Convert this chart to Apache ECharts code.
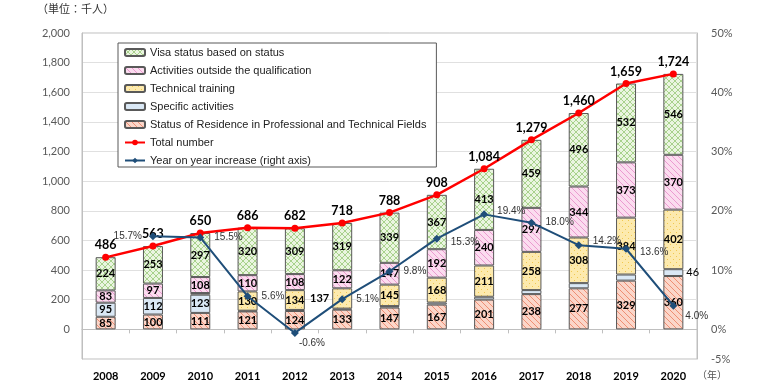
<!DOCTYPE html>
<html><head><meta charset="utf-8">
<script src="https://cdn.jsdelivr.net/npm/echarts@6/dist/echarts.min.js"></script>
<style>html,body{margin:0;padding:0;background:#fff}#c{width:773px;height:387px}</style>
</head><body><div id="c"></div>
<script>
const years = ['2008','2009','2010','2011','2012','2013','2014','2015','2016','2017','2018','2019','2020'];
const professional = [85,100,111,121,124,133,147,167,201,238,277,329,360];
const specific = [95,112,123,5,7,7,10,14,19,27,35,41,46];
const technical = [null,null,11,130,134,137,145,168,211,258,308,384,402];
const outsideActivities = [83,97,108,110,108,122,147,192,240,297,344,373,370];
const visaStatus = [224,253,297,320,309,319,339,367,413,459,496,532,546];
const totalNumber = [486,563,650,686,682,718,788,908,1084,1279,1460,1659,1724];
const yoyIncrease = [null,15.7,15.5,5.6,-0.6,5.1,9.8,15.3,19.4,18.0,14.2,13.6,4.0];
const leftTicks = {min:-200,max:2000,interval:200};
const rightTicks = {min:-5,max:50,interval:5};

function pattern(bg, fg, type){
  const c=document.createElement('canvas'); const s=6; c.width=s; c.height=s;
  const x=c.getContext('2d'); x.fillStyle=bg; x.fillRect(0,0,s,s);
  x.strokeStyle=fg; x.fillStyle=fg; x.lineWidth=1;
  if(type==='cross'){x.beginPath();x.moveTo(0,0);x.lineTo(s,s);x.moveTo(s,0);x.lineTo(0,s);x.stroke();}
  else if(type==='back'){x.beginPath();x.moveTo(0,0);x.lineTo(s,s);x.moveTo(s-1,-1);x.lineTo(s+1,1);x.moveTo(-1,s-1);x.lineTo(1,s+1);x.stroke();}
  else if(type==='dots'){x.fillRect(1,1,1,1);x.fillRect(4,4,1,1);}
  return {image:c, repeat:'repeat'};
}
const NUMF='Lato, "Liberation Sans", sans-serif';
const barLabel={show:true,position:'inside',color:'#000',fontWeight:'bold',fontSize:11,fontFamily:NUMF,formatter:p=>p.value==null?'':p.value};
const border={borderColor:'#595959',borderWidth:1};

const chart=echarts.init(document.getElementById('c'),null,{renderer:'canvas'});
const specData=specific.map((v,i)=>{
  if(i<3) return v;
  if(i===12) return {value:v,label:{show:true,position:'right',distance:3,fontWeight:'normal'}};
  return {value:v,label:{show:false}};
});
const techData=technical.map((v,i)=>{
  if(i===2) return {value:v,label:{show:false}};
  if(i===5) return {value:v,label:{position:'left',distance:3}};
  return v;
});
const yoyPos={1:['left',[0,0],7],4:['right',[-6,10],6],7:['right',[0,4],10],8:['right',[0,-3],9],
  10:['right',[0,-4],10],11:['right',[0,3],10],12:['right',[0,11],8]};
const yoyData=yoyIncrease.map((v,i)=>{
  if(v==null) return null;
  const p=yoyPos[i]||['right',[0,0],10];
  return {value:v,label:{position:p[0],offset:p[1],distance:p[2]}};
});
chart.setOption({
  animation:false,
  grid:{left:82,right:76,top:33,bottom:28,show:true,borderColor:'#bfbfbf',borderWidth:1},
  legend:{
    orient:'vertical',left:118,top:43,itemGap:7,itemWidth:20,itemHeight:7,
    borderColor:'#595959',borderWidth:1,padding:[4,10,1,6],backgroundColor:'#fff',
    textStyle:{fontSize:11,color:'#222',fontFamily:'"Liberation Sans", Arial, sans-serif'},
    data:['Visa status based on status','Activities outside the qualification','Technical training','Specific activities','Status of Residence in Professional and Technical Fields','Total number','Year on year increase (right axis)']
  },
  xAxis:[
    {type:'category',data:years,position:'bottom',axisLine:{show:false,onZero:false},axisTick:{show:false},
     axisLabel:{fontWeight:'bold',fontSize:11,color:'#000',margin:12,fontFamily:NUMF}},
    {type:'category',data:years,position:'bottom',axisLine:{show:true,onZero:true,onZeroAxisIndex:0,lineStyle:{color:'#bfbfbf'}},
     axisTick:{show:true,length:4,lineStyle:{color:'#bfbfbf'}},axisLabel:{show:false}}
  ],
  yAxis:[
    {type:'value',min:leftTicks.min,max:leftTicks.max,interval:leftTicks.interval,
     axisLine:{show:true,lineStyle:{color:'#bfbfbf'}},axisTick:{show:false},
     splitLine:{lineStyle:{color:'#e0e0e0'}},
     axisLabel:{color:'#595959',fontSize:11,margin:12,fontFamily:NUMF,formatter:v=>v<0?'':v.toLocaleString('en-US')}},
    {type:'value',min:rightTicks.min,max:rightTicks.max,interval:rightTicks.interval,
     axisLine:{show:true,lineStyle:{color:'#bfbfbf'}},axisTick:{show:false},splitLine:{show:false},
     axisLabel:{color:'#595959',fontSize:11,margin:14,fontFamily:NUMF,formatter:v=>(v%10===0||v===-5)?v+'%':''}}
  ],
  series:[
    {name:'Status of Residence in Professional and Technical Fields',type:'bar',stack:'a',barWidth:20,data:professional,
     itemStyle:Object.assign({color:pattern('#fbd6c9','#ee8f74','back')},border),label:barLabel},
    {name:'Specific activities',type:'bar',stack:'a',data:specData,
     itemStyle:Object.assign({color:'#dae8f5'},border),label:barLabel},
    {name:'Technical training',type:'bar',stack:'a',data:techData,
     itemStyle:Object.assign({color:pattern('#fdeaae','#f0c850','dots')},border),label:barLabel},
    {name:'Activities outside the qualification',type:'bar',stack:'a',data:outsideActivities,
     itemStyle:Object.assign({color:pattern('#fbdcef','#eb9ad0','back')},border),label:barLabel},
    {name:'Visa status based on status',type:'bar',stack:'a',data:visaStatus,
     itemStyle:Object.assign({color:pattern('#eaf5e0','#a8d18c','cross')},border),label:barLabel},
    {name:'Total number',type:'line',data:totalNumber,symbol:'circle',symbolSize:7,z:5,
     lineStyle:{color:'#ff0000',width:2.5},itemStyle:{color:'#ff0000'},
     label:{show:true,position:'top',distance:2,color:'#000',fontWeight:'bold',fontSize:12.5,fontFamily:NUMF,
       formatter:p=>p.value.toLocaleString('en-US')}},
    {name:'Year on year increase (right axis)',type:'line',yAxisIndex:1,data:yoyData,symbol:'diamond',symbolSize:8,z:6,
     lineStyle:{color:'#1f4e79',width:2},itemStyle:{color:'#1f4e79'},
     label:{show:true,position:'right',distance:10,color:'#333',fontSize:10,fontFamily:'"Liberation Sans", Arial, sans-serif',
       formatter:p=>p.value.toFixed(1)+'%'}}
  ],
  graphic:[
    {type:'text',left:37,top:3,style:{text:'（単位：千人）',fontSize:11,fill:'#333',fontFamily:'"Noto Sans CJK JP", sans-serif'}},
    {type:'text',left:697,top:370,style:{text:'（年）',fontSize:10,fill:'#555',fontFamily:'"Noto Sans CJK JP", sans-serif'}}
  ]
});
</script></body></html>
